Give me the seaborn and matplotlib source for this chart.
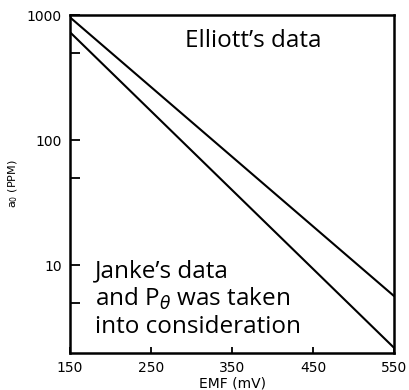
import numpy as np
import pandas as pd
import seaborn as sns
import matplotlib.pyplot as plt
from matplotlib.ticker import FixedLocator, NullFormatter

# two straight lines on a log scale
emf = [150, 550]
elliott = [960, 5.7]
janke = [730, 2.2]

x_ticks = [150, 250, 350, 450, 550]
y_major = [10, 100, 1000]
y_minor = [5, 50, 500]

df = pd.concat([
    pd.DataFrame({'emf': emf, 'a0': elliott, 'set': 'Elliott'}),
    pd.DataFrame({'emf': emf, 'a0': janke, 'set': 'Janke'}),
], ignore_index=True)

sns.set_style('white')
plt.rcParams['font.family'] = ['DejaVu Sans']
plt.rcParams['text.color'] = 'black'
plt.rcParams['axes.labelcolor'] = 'black'

fig = plt.figure(figsize=(4.1, 3.9), dpi=100)
ax = fig.add_axes([0.171, 0.095, 0.79, 0.866])

sns.lineplot(data=df, x='emf', y='a0', units='set', estimator=None,
             color='black', linewidth=1.5, ax=ax, legend=False)

ax.set_yscale('log')
ax.set_xlim(150, 550)
ax.set_ylim(2, 1000)

ax.xaxis.set_major_locator(FixedLocator(x_ticks))
ax.set_xticklabels([str(t) for t in x_ticks])
ax.yaxis.set_major_locator(FixedLocator(y_major))
ax.set_yticklabels([str(t) for t in y_major])
ax.yaxis.set_minor_locator(FixedLocator(y_minor))
ax.yaxis.set_minor_formatter(NullFormatter())

ax.tick_params(axis='y', which='both', direction='in', length=7, width=1.3,
               labelsize=10, pad=6, colors='black', left=True)
ax.tick_params(axis='x', which='major', direction='in', length=4, width=1.3,
               labelsize=10, pad=6, colors='black', bottom=True)

for s in ax.spines.values():
    s.set_color('black')
    s.set_linewidth(1.8)

ax.set_xlabel('EMF (mV)', fontsize=10, labelpad=1)
ax.set_ylabel(r'a$_0$ (PPM)', fontsize=8, labelpad=5)

ax.text(0.355, 0.905, u"Elliott\u2019s data", transform=ax.transAxes,
        fontsize=17.5, family=['Open Sans', 'DejaVu Sans'], va='baseline')
ax.text(0.077, 0.059, u"Janke\u2019s data\nand P$_\\theta$ was taken\ninto consideration",
        transform=ax.transAxes, fontsize=17.5, family=['Open Sans', 'DejaVu Sans'],
        va='baseline', linespacing=1.15)

fig.savefig('out.png', dpi=100)
